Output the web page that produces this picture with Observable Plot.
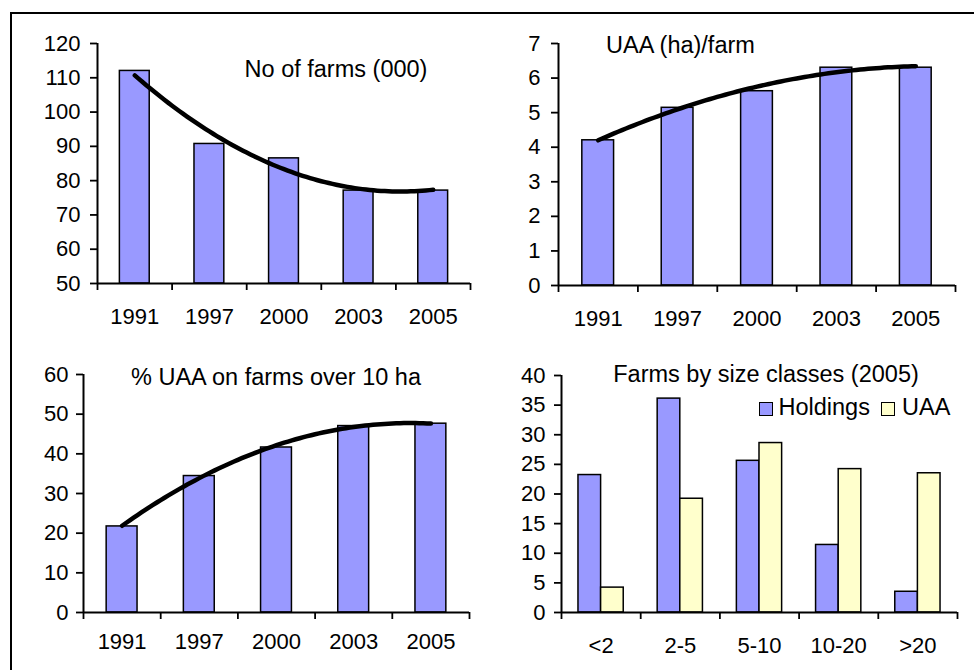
<!DOCTYPE html>
<html><head><meta charset="utf-8">
<script src="https://cdn.jsdelivr.net/npm/d3@7"></script>
<script src="https://cdn.jsdelivr.net/npm/@observablehq/plot@0.6"></script>
<style>
body{margin:0;background:#fff;}
#wrap{position:relative;width:974px;height:670px;overflow:hidden;font-family:"Liberation Sans",Arial,sans-serif;color:#000;}
.frame{position:absolute;left:10px;top:12px;width:1000px;height:700px;border-top:2px solid #000;border-left:2px solid #000;box-sizing:border-box;}
.panel{position:absolute;}
.title{position:absolute;font-size:23.5px;line-height:23.5px;white-space:nowrap;color:#000;}
.sw{position:absolute;width:14px;height:14px;box-sizing:border-box;border:1.5px solid #000;}
</style></head><body><div id="wrap"><div class="frame"></div></div>
<script>
// ---- data ----
const years = ["1991", "1997", "2000", "2003", "2005"];
const farmsCount = [112, 90.7, 86.5, 77.1, 77.1];
const uaaPerFarm = [4.2, 5.14, 5.62, 6.3, 6.3];
const pctUaaOver10 = [21.7, 34.4, 41.6, 47.0, 47.6];
const sizeClasses = ["<2", "2-5", "5-10", "10-20", ">20"];
const holdings = [23.2, 36.1, 25.6, 11.4, 3.5];
const uaaShare = [4.2, 19.2, 28.6, 24.2, 23.5];

const titles = ["No of farms (000)", "UAA (ha)/farm", "% UAA on farms over 10 ha", "Farms by size classes (2005)"];
const legendLabels = ["Holdings", "UAA"];
const BLUE = "#9999FF", CREAM = "#FFFFCC";
const FONT = "Liberation Sans, Arial, sans-serif";

// quadratic least-squares trend (like a spreadsheet polynomial trendline)
function fit2(ys) {
  const S = [0,0,0,0,0], T = [0,0,0];
  ys.forEach((y, x) => {
    for (let k = 0; k < 5; k++) S[k] += x ** k;
    for (let k = 0; k < 3; k++) T[k] += (x ** k) * y;
  });
  const A = [[S[0],S[1],S[2],T[0]],[S[1],S[2],S[3],T[1]],[S[2],S[3],S[4],T[2]]];
  for (let i = 0; i < 3; i++) {
    for (let j = i + 1; j < 3; j++) {
      const f = A[j][i] / A[i][i];
      for (let k = i; k < 4; k++) A[j][k] -= f * A[i][k];
    }
  }
  const c = [0,0,0];
  for (let i = 2; i >= 0; i--) {
    let s = A[i][3];
    for (let k = i + 1; k < 3; k++) s -= A[i][k] * c[k];
    c[i] = s / A[i][i];
  }
  return t => c[0] + c[1] * t + c[2] * t * t;
}

function trendPoints(ys) {
  const f = fit2(ys);
  const pts = [];
  const n = ys.length - 1;
  for (let k = 0; k <= 80; k++) {
    const t = n * k / 80;
    pts.push({x: t + 0.5, y: f(t)});
  }
  return pts;
}

const wrap = document.getElementById("wrap");

function panel({left, top, mL, mR, mT, mB, yDomain, yTicks, cats, series, trend, yPad, xPad}) {
  const n = cats.length;
  const marks = [];
  series.forEach(s => {
    const rows = s.values.map((v, i) => ({i, v}));
    marks.push(Plot.rectY(rows, {
      x1: d => d.i + s.from, x2: d => d.i + s.to,
      y1: yDomain[0], y2: "v",
      fill: s.fill, stroke: "#000", strokeWidth: 1.5
    }));
  });
  if (trend) marks.push(Plot.line(trendPoints(trend), {x: "x", y: "y", stroke: "#000", strokeWidth: 4.5, strokeLinecap: "round"}));
  marks.push(Plot.ruleX([0], {stroke: "#000", strokeWidth: 2}));
  marks.push(Plot.ruleY([yDomain[0]], {stroke: "#000", strokeWidth: 2}));
  marks.push(Plot.axisY({ticks: yTicks, tickFormat: d3.format("d"), label: null, tickSize: 7, tickPadding: yPad, fontSize: 22, strokeWidth: 1.8, stroke: "#000", fill: "#000"}));
  marks.push(Plot.axisX({ticks: d3.range(n + 1), tickFormat: () => "", label: null, tickSize: 7, strokeWidth: 1.8, stroke: "#000"}));
  marks.push(Plot.axisX({ticks: d3.range(n).map(i => i + 0.5), tickFormat: d => cats[Math.round(d - 0.5)], label: null, tickSize: 0, tickPadding: xPad, fontSize: 22, fill: "#000"}));
  const chart = Plot.plot({
    width: 487, height: 335,
    marginLeft: mL, marginRight: mR, marginTop: mT, marginBottom: mB,
    x: {type: "linear", domain: [0, n], label: null},
    y: {domain: yDomain, label: null},
    style: {fontFamily: FONT, fontSize: "22px", color: "#000", background: "transparent", overflow: "visible"},
    marks
  });
  const div = document.createElement("div");
  div.className = "panel";
  div.style.left = left + "px";
  div.style.top = top + "px";
  div.appendChild(chart);
  wrap.appendChild(div);
}

const single = vals => [{values: vals, from: 0.3, to: 0.7, fill: BLUE}];

panel({left: 0, top: 0, mL: 97, mR: 17, mT: 43, mB: 52, yDomain: [50, 120], yTicks: d3.range(50, 121, 10),
  cats: years, series: single(farmsCount), trend: farmsCount, yPad: 10, xPad: 25});
panel({left: 487, top: 0, mL: 71, mR: 19, mT: 43, mB: 50, yDomain: [0, 7], yTicks: d3.range(0, 8, 1),
  cats: years, series: single(uaaPerFarm), trend: uaaPerFarm, yPad: 11, xPad: 25});
panel({left: 0, top: 335, mL: 83, mR: 18, mT: 39, mB: 58, yDomain: [0, 60], yTicks: d3.range(0, 61, 10),
  cats: years, series: single(pctUaaOver10), trend: pctUaaOver10, yPad: 8, xPad: 21});
panel({left: 487, top: 335, mL: 74, mR: 17, mT: 40, mB: 58, yDomain: [0, 40], yTicks: d3.range(0, 41, 5),
  cats: sizeClasses,
  series: [{values: holdings, from: 0.2143, to: 0.5, fill: BLUE}, {values: uaaShare, from: 0.5, to: 0.7857, fill: CREAM}],
  trend: null, yPad: 9, xPad: 25});

// titles
function addText(txt, left, top, center) {
  const d = document.createElement("div");
  d.className = "title";
  d.textContent = txt;
  d.style.left = left + "px";
  d.style.top = top + "px";
  if (center) d.style.transform = "translateX(-50%)";
  wrap.appendChild(d);
}
addText(titles[0], 336, 58.4, true);
addText(titles[1], 606, 34.1, false);
addText(titles[2], 276, 365.8, true);
addText(titles[3], 766, 363.1, true);

// legend
function swatch(left, top, fill) {
  const s = document.createElement("div");
  s.className = "sw";
  s.style.left = left + "px";
  s.style.top = top + "px";
  s.style.background = fill;
  wrap.appendChild(s);
}
swatch(759, 402, BLUE);
addText(legendLabels[0], 778.5, 396.1, false);
swatch(881, 402, CREAM);
addText(legendLabels[1], 902, 396.1, false);
</script>
</body></html>
